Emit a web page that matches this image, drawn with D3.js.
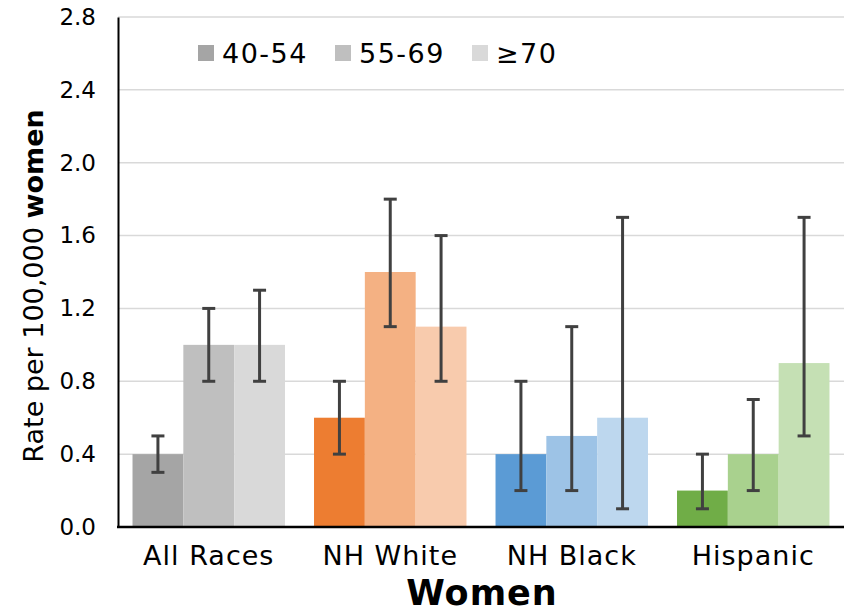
<!DOCTYPE html>
<html>
<head>
<meta charset="utf-8">
<script src="https://cdn.jsdelivr.net/npm/d3@7"></script>
<style>
  body { margin: 0; background: #fff; }
  text { font-family: "DejaVu Sans", Verdana, sans-serif; fill: #000; }
</style>
</head>
<body>
<svg id="chart" width="849" height="614"></svg>
<script>
// Chart data.
var groups = ["All Races", "NH White", "NH Black", "Hispanic"];
var ageBands = ["40-54", "55-69", "≥70"];
var rates = [
  [0.4, 1.0, 1.0],
  [0.6, 1.4, 1.1],
  [0.4, 0.5, 0.6],
  [0.2, 0.4, 0.9]
];
var lower = [
  [0.3, 0.8, 0.8],
  [0.4, 1.1, 0.8],
  [0.2, 0.2, 0.1],
  [0.1, 0.2, 0.5]
];
var upper = [
  [0.5, 1.2, 1.3],
  [0.8, 1.8, 1.6],
  [0.8, 1.1, 1.7],
  [0.4, 0.7, 1.7]
];
var yTicks = [0, 0.4, 0.8, 1.2, 1.6, 2.0, 2.4, 2.8];

var palette = [
  ["#a5a5a5", "#bfbfbf", "#d9d9d9"],
  ["#ed7d31", "#f4b183", "#f8cbad"],
  ["#5b9bd5", "#9dc3e6", "#bdd7ee"],
  ["#70ad47", "#a9d18e", "#c5e0b4"]
];

// Plot area (note: "top" would clash with window.top).
var plotLeft = 118, plotRight = 844, plotTop = 17, plotBottom = 527;

var svg = d3.select("#chart");

var x = d3.scaleBand()
  .domain(groups)
  .range([plotLeft, plotRight])
  .paddingInner(0.16)
  .paddingOuter(0.08);

var xInner = d3.scaleBand()
  .domain(d3.range(ageBands.length))
  .range([0, x.bandwidth()]);

var y = d3.scaleLinear()
  .domain([0, 2.8])
  .range([plotBottom, plotTop]);

// Gridlines.
svg.append("g").selectAll("line")
  .data(yTicks.slice(1))
  .enter().append("line")
    .attr("x1", plotLeft)
    .attr("x2", plotRight)
    .attr("y1", function(d) { return y(d); })
    .attr("y2", function(d) { return y(d); })
    .attr("stroke", "#d9d9d9")
    .attr("stroke-width", 1.5);

// Flatten the table into one record per bar.
var bars = [];
groups.forEach(function(g, gi) {
  ageBands.forEach(function(a, ai) {
    bars.push({ group: g, gi: gi, ai: ai, value: rates[gi][ai], lo: lower[gi][ai], hi: upper[gi][ai] });
  });
});

svg.append("g").selectAll("rect")
  .data(bars)
  .enter().append("rect")
    .attr("x", function(d) { return x(d.group) + xInner(d.ai); })
    .attr("width", xInner.bandwidth())
    .attr("y", function(d) { return y(d.value); })
    .attr("height", function(d) { return plotBottom - y(d.value); })
    .attr("fill", function(d) { return palette[d.gi][d.ai]; });

// Error bars.
var errors = svg.append("g")
  .attr("stroke", "#404040")
  .attr("stroke-width", 3);

bars.forEach(function(d) {
  var cx = x(d.group) + xInner(d.ai) + xInner.bandwidth() / 2;
  errors.append("line")
    .attr("x1", cx).attr("x2", cx)
    .attr("y1", y(d.lo)).attr("y2", y(d.hi));
  [d.lo, d.hi].forEach(function(v) {
    errors.append("line")
      .attr("x1", cx - 6.5).attr("x2", cx + 6.5)
      .attr("y1", y(v)).attr("y2", y(v));
  });
});

// Axes.
var yAxis = svg.append("g")
  .attr("transform", "translate(" + plotLeft + ",0)")
  .call(d3.axisLeft(y).tickValues(yTicks).tickSize(0).tickPadding(22)
    .tickFormat(d3.format(".1f")));
yAxis.select(".domain").attr("stroke", "#000").attr("stroke-width", 2);
yAxis.selectAll("text")
  .style("font-size", "23px")
  .style("font-family", "DejaVu Sans, sans-serif")
  .attr("fill", "#000");

var xAxis = svg.append("g")
  .attr("transform", "translate(0," + plotBottom + ")")
  .call(d3.axisBottom(x).tickSize(0).tickPadding(19));
xAxis.select(".domain").attr("d", "M" + (plotLeft - 1) + ",0H" + plotRight)
  .attr("stroke", "#000").attr("stroke-width", 2.5);
xAxis.selectAll("text")
  .style("font-size", "27px")
  .style("letter-spacing", "1px")
  .style("font-family", "DejaVu Sans, sans-serif")
  .attr("fill", "#000");

// Axis titles.
svg.append("text")
  .attr("x", (plotLeft + plotRight) / 2 + 1)
  .attr("y", 605)
  .attr("text-anchor", "middle")
  .style("font-size", "35px")
  .style("letter-spacing", "1px")
  .style("font-weight", "bold")
  .text("Women");

var yTitle = svg.append("text")
  .attr("transform", "translate(43,286) rotate(-90)")
  .attr("text-anchor", "middle")
  .style("font-size", "27px");
yTitle.append("tspan").text("Rate per 100,000 ");
yTitle.append("tspan").style("font-weight", "bold").text("women");

// Legend.
var legend = svg.append("g").selectAll("g")
  .data(ageBands)
  .enter().append("g")
    .attr("transform", function(d, i) { return "translate(" + (198 + i * 137) + ",45)"; });

legend.append("rect")
  .attr("width", 16)
  .attr("height", 16)
  .attr("fill", function(d, i) { return palette[0][i]; });

legend.append("text")
  .attr("x", 24)
  .attr("y", 18)
  .style("font-size", "27px")
  .style("letter-spacing", "1.5px")
  .text(function(d) { return d; });
</script>
</body>
</html>
